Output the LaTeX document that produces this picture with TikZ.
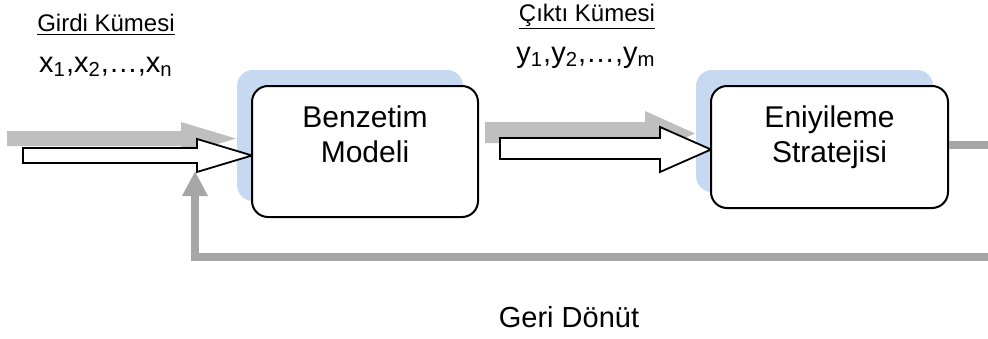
\documentclass[tikz,border=0pt]{standalone}
\usepackage{fontspec}
\setmainfont{Liberation Sans}
\usetikzlibrary{arrows.meta}
\definecolor{shadowblue}{RGB}{198,217,240}
\definecolor{arrowshade}{RGB}{191,191,191}
\definecolor{loopgray}{RGB}{166,166,166}
\tikzset{
  procbox/.style={draw=black, line width=1pt, fill=white, rounded corners=8pt, inner sep=0pt},
  boxshade/.style={fill=shadowblue, rounded corners=8pt, inner sep=0pt},
  boxtext/.style={align=center, anchor=north, inner sep=0pt, font=\fontsize{15}{17.5}\selectfont},
  blockarrow/.style={draw=black, line width=0.9pt, fill=white, line join=miter},
  arrowshadow/.style={fill=arrowshade},
  loopline/.style={draw=loopgray, line width=4pt},
  setlabel/.style={anchor=base, font=\fontsize{12}{14}\selectfont},
  setvars/.style={anchor=base, font=\fontsize{14.5}{16}\selectfont},
}
\begin{document}
\begin{tikzpicture}[x=0.5pt, y=-0.5pt]
  \useasboundingbox (0,0) rectangle (988,338);

  % shadows of the two block arrows
  \path[arrowshadow] (7,131) -- (181,131) -- (181,122) -- (236,138.5)
    -- (181,155) -- (181,146) -- (7,146) -- cycle;
  \path[arrowshadow] (485,122) -- (645,122) -- (645,111) -- (695,133.5)
    -- (645,156) -- (645,143) -- (485,143) -- cycle;

  % shadows of the process boxes
  \node[boxshade, minimum width=113pt, minimum height=65.5pt] (bmshade) at (350,135.5) {};
  \node[boxshade, minimum width=118.5pt, minimum height=61pt] (esshade) at (814.5,131) {};

  % block arrows
  \path[blockarrow] (23,148) -- (197,148) -- (197,139) -- (252,155.5)
    -- (197,172) -- (197,163) -- (23,163) -- cycle;
  \path[blockarrow] (500,138) -- (660,138) -- (660,127) -- (711,149.5)
    -- (660,172) -- (660,159) -- (500,159) -- cycle;

  % process boxes
  \node[procbox, minimum width=113pt, minimum height=65.5pt] (bm) at (365,151.5) {};
  \node[procbox, minimum width=118.5pt, minimum height=61pt] (es) at (829.5,147) {};
  \node[boxtext] (bmtext) at (365,102.5) {\strut Benzetim\\Modeli};
  \node[boxtext] (estext) at (829.5,102.5) {\strut Eniyileme\\Stratejisi};

  % output and feedback loop
  \coordinate (outend) at (988,145);
  \coordinate (fbstart) at (988,257);
  \coordinate (fbtip) at (195,171);
  \draw[loopline] (es.east |- outend) -- (outend);
  \draw[loopline, -{Triangle[length=12.5pt, width=12pt]}] (fbstart) -| (fbtip);

  % labels
  \node[setlabel] (inlabel) at (106,31) {\underline{Girdi Kümesi}};
  \node[setvars] (invars) at (106,72) {x\textsubscript{1},x\textsubscript{2},…,x\textsubscript{n}};
  \node[setlabel] (outlabel) at (587,21) {\underline{Çıktı Kümesi}};
  \node[setvars] (outvars) at (586,62) {y\textsubscript{1},y\textsubscript{2},…,y\textsubscript{m}};
  \node[setvars] (fblabel) at (569,327) {Geri Dönüt};
\end{tikzpicture}
\end{document}
